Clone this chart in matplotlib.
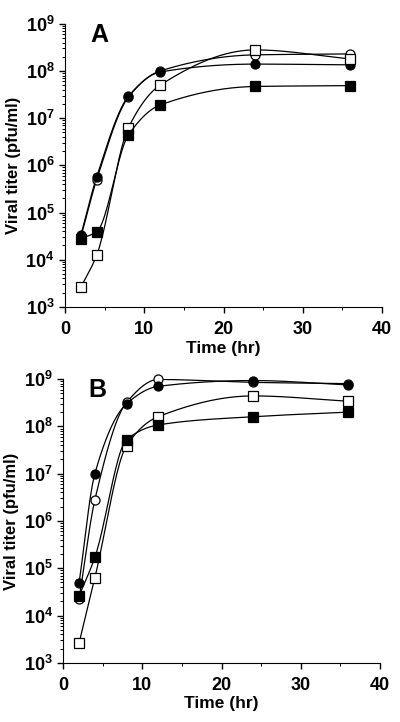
import numpy as np
import matplotlib
matplotlib.use('Agg')
import matplotlib.pyplot as plt
from matplotlib.ticker import LogLocator, NullFormatter, MultipleLocator

plt.rcParams['font.family'] = ['Liberation Sans', 'DejaVu Sans']
plt.rcParams['font.weight'] = 'bold'

t = [2, 4, 8, 12, 24, 36]
y_ticks = [1e3, 1e4, 1e5, 1e6, 1e7, 1e8, 1e9]

# panel A
a_open_circle = [3.0e4, 5.0e5, 2.8e7, 1.0e8, 2.2e8, 2.3e8]
a_filled_circle = [3.3e4, 5.7e5, 2.9e7, 9.5e7, 1.4e8, 1.35e8]
a_open_square = [2.6e3, 1.25e4, 6.3e6, 5.0e7, 2.8e8, 1.8e8]
a_filled_square = [2.8e4, 3.9e4, 4.4e6, 1.9e7, 4.7e7, 4.9e7]

# panel B
b_open_circle = [2.2e4, 2.8e6, 3.2e8, 9.8e8, 8.5e8, 8.0e8]
b_filled_circle = [4.8e4, 1.0e7, 3.0e8, 7.0e8, 9.3e8, 7.5e8]
b_open_square = [2.6e3, 6.3e4, 3.9e7, 1.6e8, 4.4e8, 3.4e8]
b_filled_square = [2.6e4, 1.7e5, 5.2e7, 1.07e8, 1.6e8, 2.0e8]


def smooth(x, y, n=200):
    # monotone cubic hermite in log space, just for the drawn curve
    x = np.asarray(x, float)
    ly = np.log10(y)
    h = np.diff(x)
    d = np.diff(ly) / h
    m = np.zeros_like(ly)
    m[0], m[-1] = d[0], d[-1]
    for i in range(1, len(x) - 1):
        if d[i - 1] * d[i] <= 0:
            m[i] = 0
        else:
            w1 = 2 * h[i] + h[i - 1]
            w2 = h[i] + 2 * h[i - 1]
            m[i] = (w1 + w2) / (w1 / d[i - 1] + w2 / d[i])
    xs = np.linspace(x[0], x[-1], n)
    k = np.clip(np.searchsorted(x, xs) - 1, 0, len(x) - 2)
    s = (xs - x[k]) / h[k]
    h00 = 2 * s**3 - 3 * s**2 + 1
    h10 = s**3 - 2 * s**2 + s
    h01 = -2 * s**3 + 3 * s**2
    h11 = s**3 - s**2
    ys = h00 * ly[k] + h10 * h[k] * m[k] + h01 * ly[k + 1] + h11 * h[k] * m[k + 1]
    return xs, 10**ys


def panel(ax, series, letter):
    for vals, marker, face in series:
        xs, ys = smooth(t, vals)
        ax.plot(xs, ys, color='black', lw=0.9)
        ax.plot(t, vals, linestyle='none', marker=marker, ms=6.5,
                mfc=face, mec='black', mew=0.9, clip_on=False)
    ax.set_yscale('log')
    ax.set_yticks(y_ticks)
    ax.set_ylim(1e3, 1e9)
    ax.set_xlim(0, 40)
    ax.xaxis.set_major_locator(MultipleLocator(10))
    ax.xaxis.set_minor_locator(MultipleLocator(5))
    ax.yaxis.set_minor_locator(LogLocator(base=10, subs=np.arange(2, 10)))
    ax.yaxis.set_minor_formatter(NullFormatter())
    ax.spines['top'].set_visible(False)
    ax.spines['right'].set_visible(False)
    ax.tick_params(which='major', length=4, width=1, labelsize=13)
    ax.tick_params(axis='x', which='major', pad=6)
    ax.tick_params(which='minor', length=2, width=0.7)
    ax.set_xlabel('Time (hr)', fontsize=12.5, fontweight='bold', labelpad=2)
    ax.set_ylabel('Viral titer (pfu/ml)', fontsize=12, fontweight='bold', labelpad=3)
    ax.text(0.08, 0.962, letter, transform=ax.transAxes, fontsize=18,
            fontweight='bold', va='center', ha='left')


fig = plt.figure(figsize=(4.0, 7.22), dpi=100)
ax1 = fig.add_axes([0.1625, 0.575, 0.7925, 0.392])
ax2 = fig.add_axes([0.158, 0.082, 0.792, 0.393])

panel(ax1, [(a_open_circle, 'o', 'white'),
            (a_filled_circle, 'o', 'black'),
            (a_open_square, 's', 'white'),
            (a_filled_square, 's', 'black')], 'A')
panel(ax2, [(b_open_circle, 'o', 'white'),
            (b_filled_circle, 'o', 'black'),
            (b_open_square, 's', 'white'),
            (b_filled_square, 's', 'black')], 'B')

fig.savefig('out.png', dpi=100)
